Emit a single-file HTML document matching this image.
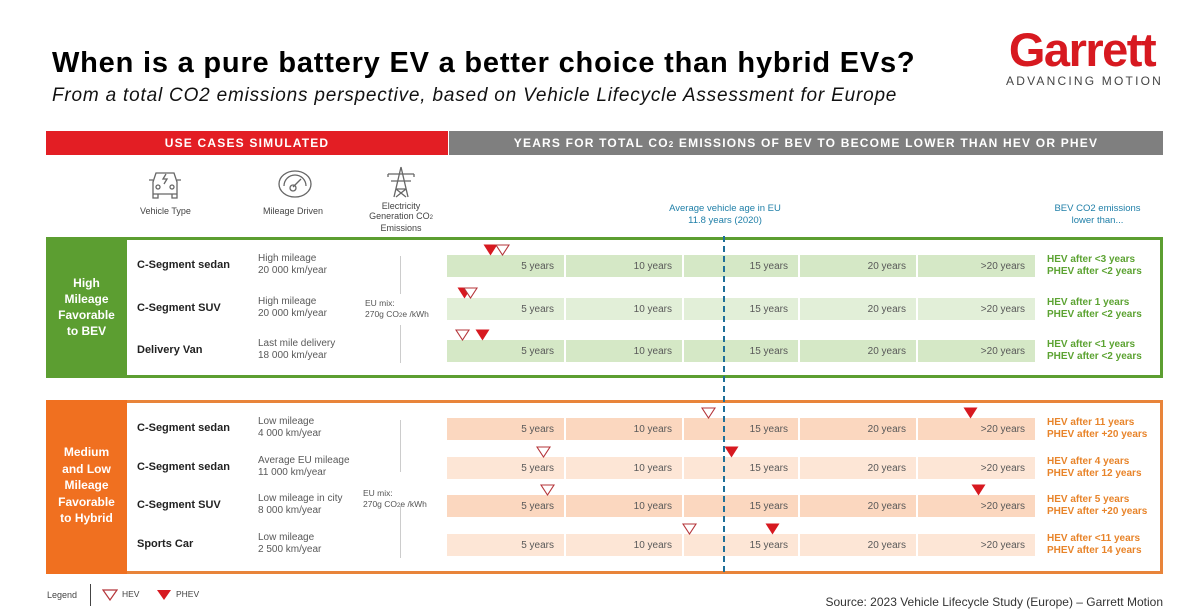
<!DOCTYPE html>
<html><head><meta charset="utf-8"><style>
*{margin:0;padding:0;box-sizing:border-box}
body{width:1200px;height:615px;background:#fff;font-family:"Liberation Sans",Arial,sans-serif;position:relative;overflow:hidden}
.a{position:absolute}
.t{white-space:nowrap}
.seg{position:absolute;height:22px;font-size:10px;color:#595959;text-align:right;padding-right:10px;line-height:23px}
.veh{position:absolute;left:137px;font-size:11px;font-weight:bold;color:#222}
.mil{position:absolute;left:258px;font-size:10px;color:#595959;line-height:12px}
.res{position:absolute;left:1047px;font-size:10px;font-weight:bold;line-height:12px}
</style></head><body>
<div class="a t" style="left:52px;top:47px;font-size:29px;font-weight:bold;color:#000;letter-spacing:0.8px">When is a pure battery EV a better choice than hybrid EVs?</div>
<div class="a t" style="left:52px;top:85px;font-size:19px;font-style:italic;color:#111;letter-spacing:0.8px">From a total CO2 emissions perspective, based on Vehicle Lifecycle Assessment for Europe</div>
<div class="a t" style="left:1001px;top:22px;width:162px;text-align:center;font-size:47px;font-weight:bold;color:#d71920;letter-spacing:-1.5px">Garrett</div>
<div class="a t" style="left:1004px;top:74px;width:159px;text-align:right;font-size:12px;color:#444;letter-spacing:2.2px">ADVANCING MOTION</div>

<div class="a" style="left:46px;top:131px;width:402px;height:24px;background:#e31e24;color:#fff;font-size:12px;font-weight:bold;text-align:center;line-height:24px;letter-spacing:1.2px">USE CASES SIMULATED</div>
<div class="a" style="left:449px;top:131px;width:714px;height:24px;background:#7f7f7f;color:#fff;font-size:12px;font-weight:bold;text-align:center;line-height:24px;letter-spacing:1.2px">YEARS FOR TOTAL CO<span style="font-size:8px">2</span> EMISSIONS OF BEV TO BECOME LOWER THAN HEV OR PHEV</div>

<svg class="a" style="left:146px;top:168px" width="38" height="32" viewBox="0 0 38 32" fill="none" stroke="#666" stroke-width="1.3"><path d="M7 14 L10 5 H28 L31 14 V26 H7Z M7 26 v4 h5 v-4 M26 26 v4 h5 v-4 M3 12 h4 M31 12 h4"/><circle cx="12" cy="19" r="2"/><circle cx="26" cy="19" r="2"/><path d="M20 6 l-3 5 h4 l-3 5"/></svg>
<svg class="a" style="left:276px;top:168px" width="38" height="32" viewBox="0 0 38 32" fill="none" stroke="#666" stroke-width="1.3"><ellipse cx="19" cy="16" rx="16" ry="13"/><path d="M8 18 a11 11 0 0 1 22 0"/><path d="M17 19 l8 -8"/><circle cx="17" cy="20" r="3"/></svg>
<svg class="a" style="left:384px;top:165px" width="34" height="34" viewBox="0 0 34 34" fill="none" stroke="#666" stroke-width="1.3"><path d="M17 2 L10 32 M17 2 L24 32 M4 9 H30 M7 16 H27 M4 9 v3 M30 9 v3 M12 24 L22 32 M22 24 L12 32 M12 24 H22"/></svg>
<div class="a t" style="left:140px;top:206px;font-size:9px;color:#444">Vehicle Type</div>
<div class="a t" style="left:263px;top:206px;font-size:9px;color:#444">Mileage Driven</div>
<div class="a" style="left:366px;top:201px;width:70px;font-size:9px;color:#444;text-align:center;line-height:10px">Electricity Generation CO<span style="font-size:6px">2</span> Emissions</div>
<div class="a" style="left:640px;top:203px;width:170px;font-size:9.5px;color:#1f7fa8;text-align:center;line-height:12px">Average vehicle age in EU<br>11.8 years (2020)</div>
<div class="a" style="left:1040px;top:203px;width:115px;font-size:9.5px;color:#1f7fa8;text-align:center;line-height:12px">BEV CO2 emissions<br>lower than...</div>

<div class="a" style="left:46px;top:237px;width:1117px;height:141px;border:3px solid #5c9e31"></div>
<div class="a" style="left:46px;top:237px;width:81px;height:141px;background:#5c9e31;color:#fff;font-size:12px;font-weight:bold;text-align:center;line-height:16px;padding-top:38px">High<br>Mileage<br>Favorable<br>to BEV</div>
<div class="a" style="left:46px;top:400px;width:1117px;height:174px;border:3px solid #e8843a"></div>
<div class="a" style="left:46px;top:400px;width:81px;height:174px;background:#f07020;color:#fff;font-size:12px;font-weight:bold;text-align:center;line-height:16.5px;padding-top:44px">Medium<br>and Low<br>Mileage<br>Favorable<br>to Hybrid</div>

<div class="a" style="left:400px;top:256px;width:1px;height:38px;background:#ccc"></div>
<div class="a" style="left:400px;top:325px;width:1px;height:38px;background:#ccc"></div>
<div class="a t" style="left:365px;top:298px;font-size:8.5px;color:#555;line-height:11px">EU mix:<br>270g CO<span style="font-size:6px">2</span>e /kWh</div>
<div class="a" style="left:400px;top:420px;width:1px;height:52px;background:#ccc"></div>
<div class="a" style="left:400px;top:506px;width:1px;height:52px;background:#ccc"></div>
<div class="a t" style="left:363px;top:488px;font-size:8.5px;color:#555;line-height:11px">EU mix:<br>270g CO<span style="font-size:6px">2</span>e /kWh</div>

<div id="rows"></div>

<div class="a" style="left:723px;top:236px;height:336px;border-left:2px dashed #1f6f98"></div>

<div class="a t" style="left:47px;top:590px;font-size:9px;color:#444">Legend</div>
<div class="a" style="left:90px;top:584px;width:1px;height:22px;background:#444"></div>
<svg class="a" style="left:102px;top:589px" width="16" height="12"><path d="M1 1 H15 L8 11Z" fill="#fff" stroke="#b5353a" stroke-width="1.2"/></svg>
<div class="a t" style="left:122px;top:589px;font-size:8.5px;color:#444">HEV</div>
<svg class="a" style="left:156px;top:589px" width="16" height="12"><path d="M1 1 H15 L8 11Z" fill="#d71920"/></svg>
<div class="a t" style="left:176px;top:589px;font-size:8.5px;color:#444">PHEV</div>
<div class="a t" style="right:37px;top:595px;font-size:12px;color:#333">Source: 2023 Vehicle Lifecycle Study (Europe) – Garrett Motion</div>

<script>
var segs=[[447,117,'5 years'],[566,116,'10 years'],[684,114,'15 years'],[800,116,'20 years'],[918,117,'>20 years']];
var rows=[
 {y:255,c:'#d5e8c6',v:'C-Segment sedan',m:'High mileage<br>20 000 km/year',r:'HEV after &lt;3 years<br>PHEV after &lt;2 years',rc:'#5ca332',h:502,p:490},
 {y:298,c:'#e2efd8',v:'C-Segment SUV',m:'High mileage<br>20 000 km/year',r:'HEV after 1 years<br>PHEV after &lt;2 years',rc:'#5ca332',h:470,p:464},
 {y:340,c:'#d5e8c6',v:'Delivery Van',m:'Last mile delivery<br>18 000 km/year',r:'HEV after &lt;1 years<br>PHEV after &lt;2 years',rc:'#5ca332',h:462,p:482},
 {y:418,c:'#fbd7bf',v:'C-Segment sedan',m:'Low mileage<br>4 000 km/year',r:'HEV after 11 years<br>PHEV after +20 years',rc:'#e8842a',h:708,p:970},
 {y:457,c:'#fde6d6',v:'C-Segment sedan',m:'Average EU mileage<br>11 000 km/year',r:'HEV after 4 years<br>PHEV after 12 years',rc:'#e8842a',h:543,p:731},
 {y:495,c:'#fbd7bf',v:'C-Segment SUV',m:'Low mileage in city<br>8 000 km/year',r:'HEV after 5 years<br>PHEV after +20 years',rc:'#e8842a',h:547,p:978},
 {y:534,c:'#fde6d6',v:'Sports Car',m:'Low mileage<br>2 500 km/year',r:'HEV after &lt;11 years<br>PHEV after 14 years',rc:'#e8842a',h:689,p:772}];
var h='';
rows.forEach(function(r){
 segs.forEach(function(s){h+='<div class="seg t" style="left:'+s[0]+'px;top:'+r.y+'px;width:'+s[1]+'px;background:'+r.c+'">'+s[2]+'</div>';});
 h+='<div class="veh t" style="top:'+(r.y+4)+'px">'+r.v+'</div>';
 h+='<div class="mil t" style="top:'+(r.y-2)+'px">'+r.m+'</div>';
 h+='<div class="res t" style="top:'+(r.y-1)+'px;color:'+r.rc+'">'+r.r+'</div>';
 var ty=r.y-11;
 h+='<svg class="a" style="left:'+(r.p-7)+'px;top:'+ty+'px" width="15" height="12"><path d="M0.5 0.5 H14.5 L7.5 11.5Z" fill="#d71920"/></svg>';
 h+='<svg class="a" style="left:'+(r.h-7)+'px;top:'+ty+'px" width="15" height="12"><path d="M1 1 H14 L7.5 11Z" fill="#fff" stroke="#b5353a" stroke-width="1.1"/></svg>';
});
document.getElementById('rows').innerHTML=h;
</script>
</body></html>
